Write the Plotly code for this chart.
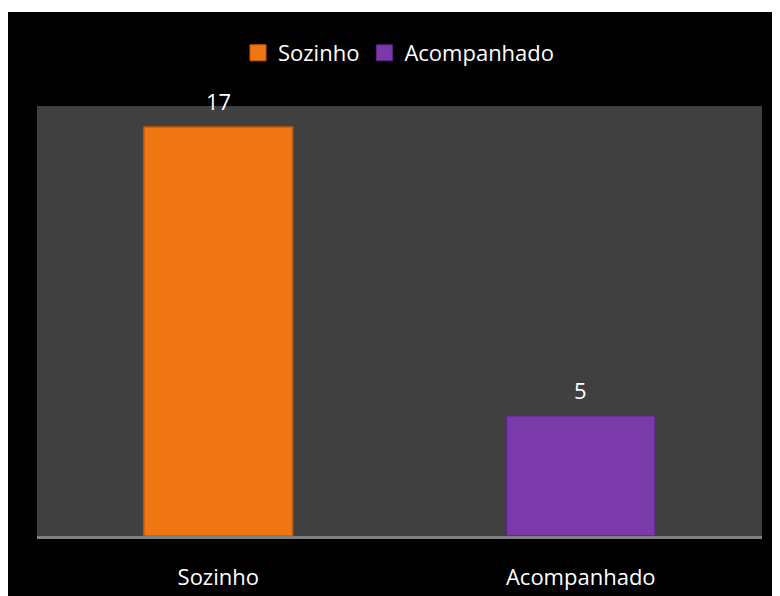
import plotly.graph_objects as go

categorias = ["Sozinho", "Acompanhado"]
valores = [17, 5]
cores = ["#F07614", "#7A3AAA"]
bordas = ["#C55A08", "#5E2488"]

# a página desloca a figura em 8px (margem do body)
OFF = 8
W, H = 780 - OFF, 596 - OFF
ML, MR, MT, MB = 37 - OFF, 18, 106 - OFF, 60
pw, ph = W - ML - MR, H - MT - MB

def px_x(x):
    return (x - OFF - ML) / pw

def px_y(y):
    return (H - MB - (y - OFF)) / ph

fig = go.Figure()
for cat, val, cor, borda in zip(categorias, valores, cores, bordas):
    fig.add_trace(go.Bar(
        x=[cat], y=[val], name=cat,
        marker=dict(color=cor, line=dict(color=borda, width=1.5)),
        showlegend=False,
    ))
    # item de legenda com quadrado maior
    fig.add_trace(go.Scatter(
        x=[None], y=[None], mode="markers", name=cat,
        marker=dict(symbol="square", size=16, color=cor,
                    line=dict(color=borda, width=1)),
    ))
    fig.add_annotation(
        x=cat, y=val, text=str(val), showarrow=False,
        yanchor="bottom", yshift=9,
        font=dict(family="Open Sans", size=22, color="white"),
    )

# fundo preto com margem branca, depois área do gráfico cinza
fig.add_shape(type="rect", xref="paper", yref="paper", layer="below",
              x0=px_x(7), x1=px_x(800), y0=px_y(12), y1=px_y(620),
              fillcolor="black", line_width=0)
fig.add_shape(type="rect", xref="paper", yref="paper", layer="below",
              x0=0, x1=1, y0=0, y1=1, fillcolor="#404040", line_width=0)

fig.update_layout(
    width=W, height=H,
    margin=dict(l=ML, r=MR, t=MT, b=MB, autoexpand=False),
    paper_bgcolor="white",
    plot_bgcolor="#404040",
    bargap=0.59,
    barmode="overlay",
    font=dict(family="Open Sans", size=22, color="white"),
    legend=dict(orientation="h", x=px_x(399), xanchor="center",
                y=px_y(53), yanchor="middle",
                font=dict(size=22, color="white"),
                bgcolor="rgba(0,0,0,0)", itemwidth=30),
    xaxis=dict(showline=True, linecolor="#808080", linewidth=3,
               ticks="outside", ticklen=20, tickcolor="rgba(0,0,0,0)",
               showgrid=False, automargin=False,
               tickfont=dict(size=22, color="white")),
    yaxis=dict(range=[0, 17.87], visible=False, showgrid=False,
               automargin=False),
)

fig.write_html("out.html")
